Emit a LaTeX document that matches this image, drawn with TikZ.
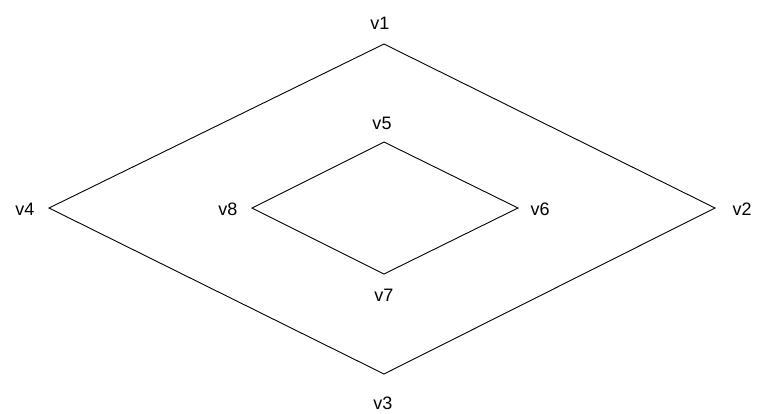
\documentclass[tikz,border=0pt]{standalone}
\usepackage{fontspec}
\setmainfont{Liberation Sans}
\begin{document}
\begin{tikzpicture}[x=1pt,y=-1pt,
  edge/.style={draw=black,line width=0.9pt,line join=miter},
  lbl/.style={font=\fontsize{18}{20}\selectfont,inner sep=0pt,text=black}]
\useasboundingbox (0,0) rectangle (760,413);
% outer vertices
\coordinate (p1) at (384,44);
\coordinate (p2) at (715,208);
\coordinate (p3) at (384,374);
\coordinate (p4) at (49,208);
% inner vertices
\coordinate (p5) at (384,142);
\coordinate (p6) at (518,208);
\coordinate (p7) at (384,274);
\coordinate (p8) at (252,208);
\draw[edge] (p1) -- (p2) -- (p3) -- (p4) -- cycle;
\draw[edge] (p5) -- (p6) -- (p7) -- (p8) -- cycle;
\node[lbl] (v1) at (380,23) {v1};
\node[lbl] (v2) at (742,209) {v2};
\node[lbl] (v3) at (383,403) {v3};
\node[lbl] (v4) at (25,209) {v4};
\node[lbl] (v5) at (382,123) {v5};
\node[lbl] (v6) at (540,209) {v6};
\node[lbl] (v7) at (384,295) {v7};
\node[lbl] (v8) at (228,209) {v8};
\end{tikzpicture}
\end{document}
